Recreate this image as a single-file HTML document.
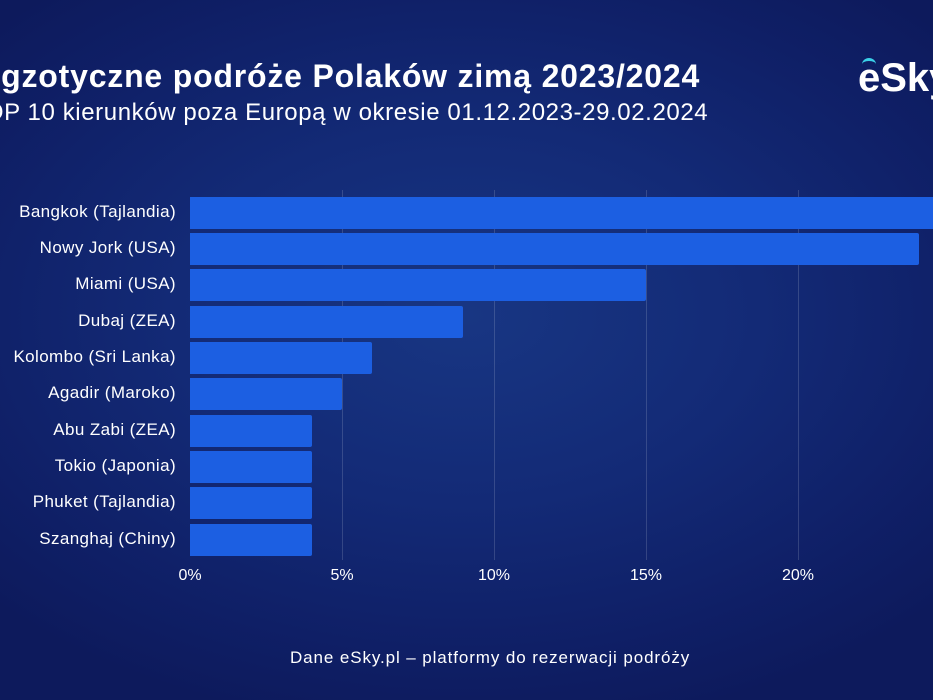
<!DOCTYPE html>
<html><head><meta charset="utf-8"><style>
body{margin:0;width:933px;height:700px;overflow:hidden;font-family:"Liberation Sans",sans-serif;}
#bg{position:absolute;left:0;top:0;width:933px;height:700px;background:radial-gradient(ellipse 70% 60% at 50% 45%,#183683 0%,#132a76 45%,#0f1f66 80%,#0d1a5c 100%);overflow:hidden}
.t{position:absolute;color:#fff;white-space:nowrap}
.lbl{position:absolute;right:757px;color:#fff;font-size:17px;letter-spacing:0.4px;white-space:nowrap}
.bar{position:absolute;left:190px;height:32px;background:#1c5fe2;border-radius:0 2px 2px 0}
.grid{position:absolute;top:190px;height:370px;width:1px;background:rgba(255,255,255,0.15)}
.tick{position:absolute;top:567px;color:#fff;font-size:16px;transform:translateX(-50%)}
</style></head><body><div id="bg">
<div class="t" style="left:-21px;top:58px;font-size:32px;font-weight:bold;letter-spacing:0.8px">Egzotyczne podróże Polaków zimą 2023/2024</div>
<div class="t" style="left:-30px;top:99px;font-size:24px;letter-spacing:0.6px">TOP 10 kierunków poza Europą w okresie 01.12.2023-29.02.2024</div>
<div class="t" style="left:858px;top:56px;font-size:40px;font-weight:bold">eSky</div>
<div style="position:absolute;left:862px;top:58px;width:14px;height:10px;border-top:3px solid #3ad0e8;border-radius:50% 50% 0 0"></div>
<div class="grid" style="left:342px"></div><div class="grid" style="left:494px"></div><div class="grid" style="left:646px"></div><div class="grid" style="left:798px"></div>
<div class="bar" style="top:197px;width:760px"></div>
<div class="bar" style="top:233px;width:729px"></div>
<div class="bar" style="top:269px;width:456px"></div>
<div class="bar" style="top:306px;width:273px"></div>
<div class="bar" style="top:342px;width:182px"></div>
<div class="bar" style="top:378px;width:152px"></div>
<div class="bar" style="top:415px;width:122px"></div>
<div class="bar" style="top:451px;width:122px"></div>
<div class="bar" style="top:487px;width:122px"></div>
<div class="bar" style="top:524px;width:122px"></div>
<div class="lbl" style="top:202px">Bangkok (Tajlandia)</div>
<div class="lbl" style="top:238px">Nowy Jork (USA)</div>
<div class="lbl" style="top:274px">Miami (USA)</div>
<div class="lbl" style="top:311px">Dubaj (ZEA)</div>
<div class="lbl" style="top:347px">Kolombo (Sri Lanka)</div>
<div class="lbl" style="top:383px">Agadir (Maroko)</div>
<div class="lbl" style="top:420px">Abu Zabi (ZEA)</div>
<div class="lbl" style="top:456px">Tokio (Japonia)</div>
<div class="lbl" style="top:492px">Phuket (Tajlandia)</div>
<div class="lbl" style="top:529px">Szanghaj (Chiny)</div>
<div class="tick" style="left:190px">0%</div><div class="tick" style="left:342px">5%</div><div class="tick" style="left:494px">10%</div><div class="tick" style="left:646px">15%</div><div class="tick" style="left:798px">20%</div>
<div class="t" style="left:290px;top:648px;font-size:17px;letter-spacing:0.9px">Dane eSky.pl – platformy do rezerwacji podróży</div>
</div></body></html>
